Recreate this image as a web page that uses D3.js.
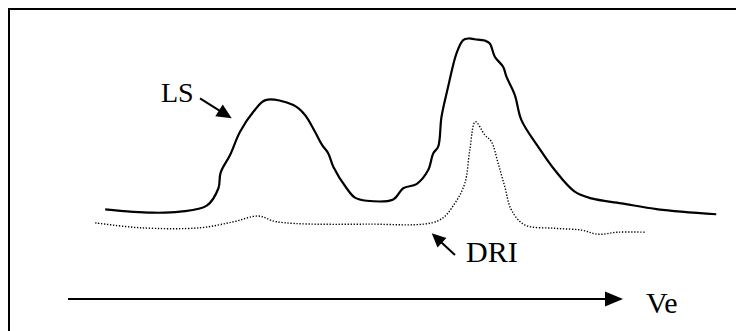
<!DOCTYPE html>
<html>
<head>
<meta charset="utf-8">
<script src="https://cdn.jsdelivr.net/npm/d3@7"></script>
<style>
  body { margin: 0; background: #fff; }
</style>
</head>
<body>
<div id="chart"></div>
<script>
// --- elution profile: light scattering (LS) and refractive index (DRI) ---
// x = elution volume (arbitrary units, axis runs 0..100), y = detector signal (arbitrary)
const lsVe = [6.7, 15.1, 20.2, 25.0, 27.1, 27.5, 29.2, 31.0, 33.4, 35.6, 40.6, 42.7, 44.5, 45.8, 46.9, 47.8,
    50.2, 51.7, 53.8, 58.6, 60.4, 62.8, 64.9, 65.8, 66.7, 67.3, 68.5, 70.0, 71.2, 72.2, 73.3, 75.1,
    76.0, 76.9, 78.4, 79.0, 80.5, 81.7, 84.7, 87.7, 91.3, 94.3, 99.7, 106.3, 116.8];
const lsSignal = [34.5, 33.2, 33.6, 35.9, 42.6, 48.6, 55.4, 64.3, 72.0, 76.5, 74.6, 70.8, 64.3, 59.2, 56.0, 50.9,
    42.6, 39.0, 37.8, 38.3, 42.6, 44.2, 49.6, 56.0, 58.6, 70.1, 81.7, 94.5, 99.6, 100.2, 99.9, 99.4,
    98.3, 93.2, 89.3, 85.5, 78.5, 68.8, 58.6, 49.6, 41.3, 38.7, 36.8, 34.5, 32.6];

const driVe = [4.9, 13.0, 23.8, 29.8, 34.3, 37.6, 53.8, 66.7, 69.7, 71.5, 72.4, 73.4, 75.1, 76.3,
    77.5, 78.7, 79.9, 82.3, 87.7, 92.5, 95.5, 99.1, 103.9];
const driSignal = [29.3, 27.4, 27.4, 29.7, 31.9, 29.7, 28.8, 30.1, 36.8, 44.5, 57.3, 68.2, 63.1, 60.5,
    52.2, 43.2, 34.2, 28.5, 27.2, 26.5, 24.9, 25.7, 25.7];

const axisLabel = "Ve";
const lsLabel = "LS";
const driLabel = "DRI";

const width = 736, height = 331;

const svg = d3.select("#chart")
    .append("svg")
    .attr("width", width)
    .attr("height", height);

const x = d3.scaleLinear().domain([0, 100]).range([68, 623]);
const y = d3.scaleLinear().domain([0, 100]).range([299, 39]);

// frame (right and bottom edges run off the picture)
svg.append("rect")
    .attr("x", 9).attr("y", 9)
    .attr("width", 800).attr("height", 400)
    .attr("fill", "none")
    .attr("stroke", "#000")
    .attr("stroke-width", 2);

function arrow(x1, y1, x2, y2, len, hw, sw) {
    const dx = x2 - x1, dy = y2 - y1;
    const L = Math.hypot(dx, dy);
    const ux = dx / L, uy = dy / L;
    const bx = x2 - ux * len, by = y2 - uy * len;
    svg.append("line")
        .attr("x1", x1).attr("y1", y1)
        .attr("x2", bx + ux).attr("y2", by + uy)
        .attr("stroke", "#000").attr("stroke-width", sw);
    svg.append("path")
        .attr("d", `M${x2},${y2}L${bx - uy * hw},${by + ux * hw}L${bx + uy * hw},${by - ux * hw}Z`)
        .attr("fill", "#000");
}

function label(tx, ty, str, size) {
    svg.append("text")
        .attr("x", tx).attr("y", ty)
        .style("font-family", "'Liberation Serif', 'Times New Roman', serif")
        .style("font-size", size + "px")
        .attr("fill", "#000")
        .text(str);
}

const line = d3.line()
    .x(d => x(d[0]))
    .y(d => y(d[1]))
    .curve(d3.curveCatmullRom.alpha(0.5));

// DRI (dotted)
svg.append("path")
    .datum(d3.zip(driVe, driSignal))
    .attr("fill", "none")
    .attr("stroke", "#000")
    .attr("stroke-width", 1.4)
    .attr("stroke-dasharray", "1.3,1.7")
    .attr("d", line);

// LS (solid)
svg.append("path")
    .datum(d3.zip(lsVe, lsSignal))
    .attr("fill", "none")
    .attr("stroke", "#000")
    .attr("stroke-width", 2.2)
    .attr("stroke-linejoin", "round")
    .attr("d", line);

// elution volume axis
arrow(x(0), y(0), x(100), y(0), 18, 7.5, 2);
label(646, 312.5, axisLabel, 30);

// labels
label(161, 101.5, lsLabel, 28);
arrow(200, 98.3, 231.7, 118.3, 15, 7, 2);

label(466, 261.5, driLabel, 30);
arrow(455, 255, 431.7, 233.3, 14, 6.5, 2);
</script>
</body>
</html>
